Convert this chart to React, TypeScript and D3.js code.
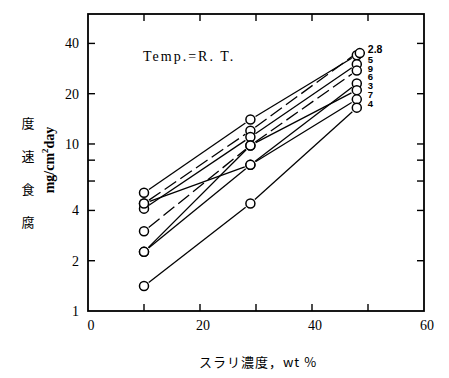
import React from 'react';
import * as d3 from 'd3';

// slurry concentration (wt %) at which each run was measured
const conc = [10, 29, 48];

// corrosion rate, mg/cm2day, one array per series
const s2 = [5.1, 14.0, 34];
const s8 = [4.4, 12.0, 35];
const s5 = [4.1, 11.0, 30];
const s9 = [3.0, 9.8, 27.5];
const s6 = [4.4, 7.5, 23];
const s3 = [2.26, 9.8, 21];
const s7 = [2.26, 7.5, 18.5];
const s4 = [1.41, 4.4, 16.5];

const seriesNames = ['2', '8', '5', '9', '6', '3', '7', '4'];
const seriesValues = [s2, s8, s5, s9, s6, s3, s7, s4];
const dashedSeries = ['8', '9'];

const endLabels = ['2.8', '5', '9', '6', '3', '7', '4'];

const xTicks = [10, 20, 30, 40, 50];
const xTickLabels = [0, 20, 40, 60];
const yTicks = [2, 4, 6, 8, 10, 20, 40];
const yTickLabels = [1, 2, 4, 10, 20, 40];

const W = 449;
const H = 378;
const serif = '"Liberation Serif", "DejaVu Serif", serif';
const sans = '"Liberation Sans", Arial, sans-serif';
const cjk = '"Noto Sans CJK JP", sans-serif';

export default function App() {
  const x = d3.scaleLinear().domain([0, 60]).range([88, 424]);
  const y = d3.scaleLog().domain([1, 60]).range([311, 14]);
  const r = 4.5;
  const gap = r + 1.5;

  // shorten each segment so it stops short of the circles
  const segs: { key: string; x1: number; y1: number; x2: number; y2: number; dashed: boolean }[] = [];
  seriesValues.forEach((vals, si) => {
    for (let i = 0; i < vals.length - 1; i++) {
      const ax = x(conc[i]), ay = y(vals[i]);
      const bx = x(conc[i + 1]), by = y(vals[i + 1]);
      const len = Math.hypot(bx - ax, by - ay);
      const ux = (bx - ax) / len, uy = (by - ay) / len;
      segs.push({
        key: `${si}-${i}`,
        x1: ax + ux * gap, y1: ay + uy * gap,
        x2: bx - ux * gap, y2: by - uy * gap,
        dashed: dashedSeries.includes(seriesNames[si]),
      });
    }
  });

  const labelX = x(conc[2]) + 11;
  const labelTop = y(d3.max(seriesValues, v => v[2]) as number) - 4;

  const [x0, x1] = x.range();
  const [y0, y1] = y.range();

  return (
    <svg width={W} height={H} style={{ position: 'absolute', left: 0, top: 0, background: '#fff' }}>
      {/* frame */}
      <rect x={x0} y={y1} width={x1 - x0} height={y0 - y1} fill="none" stroke="#000" strokeWidth={1.8} />
      {xTicks.map(t => (
        <g key={'xt' + t} stroke="#000" strokeWidth={1.4}>
          <line x1={x(t)} x2={x(t)} y1={y0} y2={y0 - 7} />
          <line x1={x(t)} x2={x(t)} y1={y1} y2={y1 + 7} />
        </g>
      ))}
      {yTicks.map(t => (
        <g key={'yt' + t} stroke="#000" strokeWidth={1.4}>
          <line x1={x0} x2={x0 + 7} y1={y(t)} y2={y(t)} />
          <line x1={x1} x2={x1 - 7} y1={y(t)} y2={y(t)} />
        </g>
      ))}
      {xTickLabels.map(t => (
        <text key={'xl' + t} x={x(t) + 3} y={y0 + 19} textAnchor="middle" fontFamily={serif} fontSize={14}>{t}</text>
      ))}
      {yTickLabels.map(t => (
        <text key={'yl' + t} x={x0 - 9} y={y(t) + 5} textAnchor="end" fontFamily={serif} fontSize={14}>{t}</text>
      ))}

      {/* series */}
      {segs.map(s => (
        <line key={s.key} x1={s.x1} y1={s.y1} x2={s.x2} y2={s.y2} stroke="#000" strokeWidth={1.3}
          strokeDasharray={s.dashed ? '14,5' : undefined} />
      ))}
      {seriesValues.map((vals, si) => vals.map((v, i) => (
        <circle key={`c${si}-${i}`} cx={x(conc[i]) + (seriesNames[si] === '8' && i === 2 ? 3 : 0)} cy={y(v)} r={r}
          fill="#fff" stroke="#000" strokeWidth={1.5} />
      )))}
      {endLabels.map((l, i) => (
        <text key={'el' + l} x={labelX} y={labelTop + (i === 0 ? 0 : 1 + i * 8.8) + 4}
          fontFamily={sans} fontSize={i === 0 ? 10.5 : 9.5} fontWeight="bold">{l}</text>
      ))}

      <text x={143} y={61} fontFamily={serif} fontSize={14} letterSpacing={2}>Temp.=R. T.</text>

      {/* axis titles */}
      {['度', '速', '食', '腐'].map((c, i) => (
        <text key={c} x={28} y={128 + i * 33} textAnchor="middle" fontFamily={cjk} fontSize={13}>{c}</text>
      ))}
      <text transform="translate(54,160) rotate(-90)" textAnchor="middle" fontFamily={serif} fontSize={14} fontWeight="bold">
        mg/cm<tspan fontSize={9} dy={-6}>2</tspan><tspan dy={6}>day</tspan>
      </text>
      <text x={258} y={367} textAnchor="middle" fontFamily={cjk} fontSize={13} letterSpacing={1}>スラリ濃度，wt %</text>
    </svg>
  );
}
